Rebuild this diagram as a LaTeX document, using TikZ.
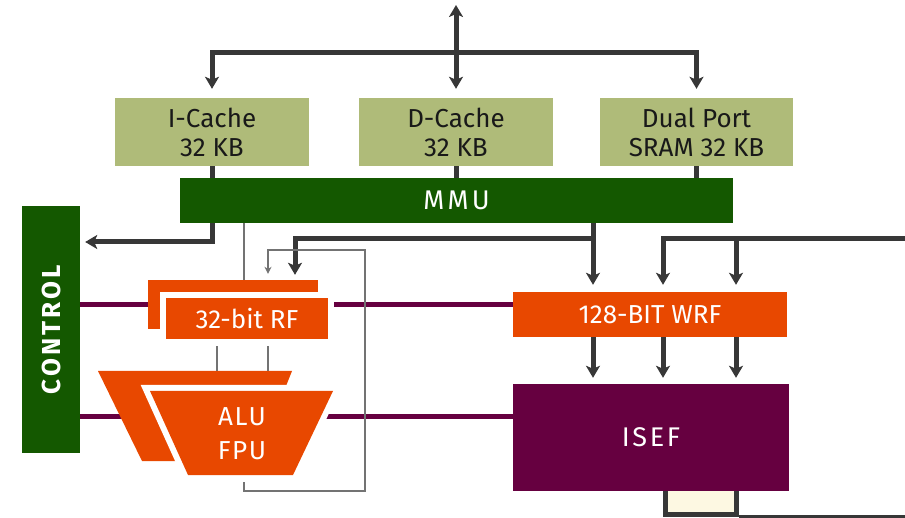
\documentclass[tikz,border=0pt]{standalone}
\usepackage{fontspec}
\setmainfont{Fira Sans}
\definecolor{cachegreen}{RGB}{175,187,121}
\definecolor{mmugreen}{RGB}{20,88,0}
\definecolor{rforange}{RGB}{232,72,0}
\definecolor{isefpurple}{RGB}{102,0,64}
\definecolor{busgray}{RGB}{55,55,55}
\definecolor{wiregray}{RGB}{115,115,115}
\definecolor{bufbeige}{RGB}{253,248,226}
\usetikzlibrary{arrows.meta}

\begin{document}
\begin{tikzpicture}[x=1pt, y=-1pt,
  membox/.style={rectangle, fill=cachegreen, minimum width=194pt, minimum height=68pt,
                 inner sep=0pt, align=center, text=black!90,
                 font=\fontsize{26}{29}\selectfont},
  barbox/.style={rectangle, fill=mmugreen, inner sep=0pt, text=white},
  unitbox/.style={rectangle, fill=rforange, inner sep=0pt, text=white,
                  font=\fontsize{26}{29}\selectfont},
  halo/.style={preaction={draw=white, line width=12pt}},
  bus/.style={draw=busgray, line width=5pt},
  arr/.style={bus, -{Stealth[length=12pt, width=14pt, inset=3pt]}},
  ctl/.style={draw=isefpurple, line width=5pt},
  wire/.style={draw=wiregray, line width=1.3pt}
]
\useasboundingbox (0,0) rectangle (905,518);

% Memories and MMU
\node[membox] (icache) at (212,132) {I-Cache\\32 KB};
\node[membox] (dcache) at (456,132) {D-Cache\\32 KB};
\node[membox, minimum width=193pt] (sram) at (696.5,132) {Dual Port\\SRAM 32 KB};

\node[barbox, minimum width=553pt, minimum height=45pt,
      font=\fontsize{27}{27}\selectfont\addfontfeatures{LetterSpace=12}] (mmu) at (456.5,200.5) {MMU};

% Control
\node[barbox, minimum width=58pt, minimum height=247pt] (control) at (51,329.5) {};
\node[rotate=90, text=white, font=\fontsize{26}{26}\selectfont\bfseries\addfontfeatures{LetterSpace=12}]
  (controltxt) at (control) {CONTROL};

% Wide datapath
\node[draw=busgray, line width=5pt, fill=bufbeige, minimum width=71pt, minimum height=26.5pt,
      inner sep=0pt] (buf) at (700.5,501.25) {};
\node[unitbox, minimum width=274pt, minimum height=45pt] (wrf) at (650,314.5) {128-BIT WRF};
\node[rectangle, fill=isefpurple, minimum width=276pt, minimum height=107pt, inner sep=0pt,
      text=white, font=\fontsize{27}{29}\selectfont\addfontfeatures{LetterSpace=10}]
  (isef) at (651,437.5) {ISEF};

% Control lines
\coordinate (rfrow) at (0,305);
\coordinate (alurow) at (0,417);
\draw[ctl] (control.east |- rfrow) -- (wrf.west |- rfrow);
\draw[ctl] (control.east |- alurow) -- (isef.west |- alurow);

% Register file
\node[unitbox, minimum width=170pt, minimum height=49pt] (rfback) at (233,304.5) {};
\node[unitbox, halo, minimum width=162pt, minimum height=41pt] (rf) at (247,318.5) {32-bit RF};

% ALU / FPU
\fill[rforange] (98,371) -- (292,371) -- (256,461) -- (142,461) -- cycle;
\fill[rforange, halo] (150,391) -- (333,391) -- (293,475) -- (188,475) -- cycle;
\node[text=white, align=center, font=\fontsize{26}{34}\selectfont\addfontfeatures{LetterSpace=6}]
  (alu) at (242,434) {ALU\\FPU};

% Bus to memories
\coordinate (busin) at (456,5);
\coordinate (busrow) at (0,53);
\draw[arr, {Stealth[length=12pt, width=14pt, inset=3pt]}-{Stealth[length=12pt, width=14pt, inset=3pt]},
      shorten >=9pt] (busin) -- (dcache.north);
\draw[arr, shorten >=9pt] (busin |- busrow) -| (icache.north);
\draw[arr, shorten >=9pt] (busin |- busrow) -| (sram.north);
\foreach \m in {icache,dcache,sram}
  \draw[bus] (\m.south) -- (\m.south |- mmu.north);

% MMU to control
\coordinate (ctlrow) at (0,242);
\draw[arr, shorten >=5pt] (mmu.south -| icache) |- (control.east |- ctlrow);

% MMU to register files
\coordinate (tapA) at (593,0);
\coordinate (tapB) at (663,0);
\coordinate (tapC) at (736,0);
\coordinate (rfin) at (295,0);
\coordinate (wrow) at (0,239);
\coordinate (eastbus) at (910,239);
\draw[arr, shorten >=7pt] (mmu.south -| tapA) -- (wrf.north -| tapA);
\draw[arr, shorten >=5pt] (tapA |- wrow) -| (rfback.north -| rfin);
\draw[arr, shorten >=7pt] (eastbus) -| (wrf.north -| tapB);
\draw[arr, shorten >=7pt] (eastbus -| tapC) -- (wrf.north -| tapC);
\foreach \t in {tapA,tapB,tapC}
  \draw[arr, shorten >=6pt] (wrf.south -| \t) -- (isef.north -| \t);
\draw[bus] (buf.south east) -- (buf.south east -| eastbus);

% Thin wires
\coordinate (fbout) at (244,482);
\coordinate (fbcorner) at (365,491);
\coordinate (fbtop) at (365,250);
\coordinate (opA) at (217,0);
\coordinate (opB) at (268,0);
\coordinate (alutop) at (0,371);
\draw[wire] (mmu.south -| fbout) -- (rfback.north -| fbout);
\draw[wire, shorten <=7pt] (rf.south -| opA) -- (opA |- alutop);
\draw[wire, shorten <=7pt] (rf.south -| opB) -- (opB |- alutop);
\draw[wire, -{Stealth[length=7pt, width=7pt]}, shorten >=6pt]
  (fbout) |- (fbcorner) -- (fbtop) -| (rfback.north -| opB);
\end{tikzpicture}
\end{document}
